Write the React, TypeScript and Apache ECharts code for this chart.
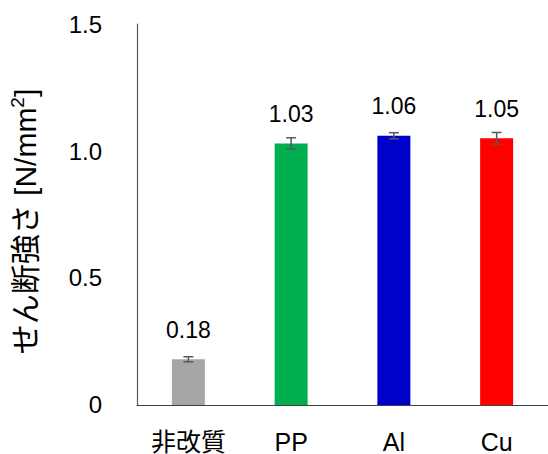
import React, { useEffect, useRef } from "react";
import * as echarts from "echarts";

const categories = ["非改質", "PP", "Al", "Cu"];
const values = [0.18, 1.03, 1.06, 1.05];
const errors = [0.01, 0.022, 0.012, 0.023];
const colors = ["#A6A6A6", "#00B050", "#0000CC", "#FF0000"];
const yTicks = [0, 0.5, 1.0, 1.5];

const FONT = "'Liberation Sans', Arial, 'Noto Sans CJK JP', sans-serif";

export default function App() {
  const ref = useRef<HTMLDivElement>(null);
  useEffect(() => {
    if (!ref.current) return;
    const chart = echarts.init(ref.current, null, { renderer: "svg" });
    chart.setOption({
      animation: false,
      textStyle: { fontFamily: FONT },
      grid: { left: 137, top: 24, height: 383, width: 420 },
      xAxis: {
        type: "category",
        data: categories,
        axisLine: { lineStyle: { color: "#404040", width: 1.2 } },
        axisTick: { show: false },
        axisLabel: { color: "#000", fontSize: 25, margin: 24, fontFamily: FONT },
      },
      yAxis: {
        type: "value",
        min: yTicks[0],
        max: yTicks[yTicks.length - 1],
        interval: 0.5,
        name: "せん断強さ [N/mm{sup|2}]",
        nameLocation: "middle",
        nameGap: 95,
        nameRotate: 90,
        nameTextStyle: {
          color: "#000",
          fontSize: 30,
          fontFamily: FONT,
          padding: [0, 14, 0, 0],
          rich: {
            sup: { fontSize: 19, color: "#000", fontFamily: FONT, verticalAlign: "top", padding: [0, 0, 15, 0] },
          },
        },
        axisLine: { show: true, lineStyle: { color: "#595959", width: 1.2 } },
        axisTick: { show: false },
        splitLine: { show: false },
        axisLabel: {
          color: "#000",
          fontSize: 24,
          margin: 35,
          fontFamily: FONT,
          formatter: (v: number) => (v === 0 ? "0" : v.toFixed(1)),
        },
      },
      series: [
        {
          type: "bar",
          barWidth: 33,
          data: values.map((v, i) => ({ value: v, itemStyle: { color: colors[i] } })),
          label: {
            show: true,
            position: "top",
            distance: 18,
            color: "#000",
            fontSize: 23,
            fontFamily: FONT,
            formatter: (p: any) => p.value.toFixed(2),
          },
          z: 2,
        },
        {
          type: "custom",
          data: values.map((v, i) => [i, v - errors[i], v + errors[i]]),
          z: 3,
          renderItem: (params: any, api: any) => {
            const x = api.value(0);
            const lo = api.coord([x, api.value(1)]);
            const hi = api.coord([x, api.value(2)]);
            const hw = 5;
            const style = { stroke: "#595959", lineWidth: 1.5 };
            return {
              type: "group",
              children: [
                { type: "line", shape: { x1: lo[0], y1: lo[1], x2: hi[0], y2: hi[1] }, style },
                { type: "line", shape: { x1: lo[0] - hw, y1: lo[1], x2: lo[0] + hw, y2: lo[1] }, style },
                { type: "line", shape: { x1: hi[0] - hw, y1: hi[1], x2: hi[0] + hw, y2: hi[1] }, style },
              ],
            };
          },
        },
      ],
    });
    return () => chart.dispose();
  }, []);
  return (
    <div
      ref={ref}
      style={{ position: "fixed", left: 0, top: 0, width: 548, height: 454, background: "#fff" }}
    />
  );
}
